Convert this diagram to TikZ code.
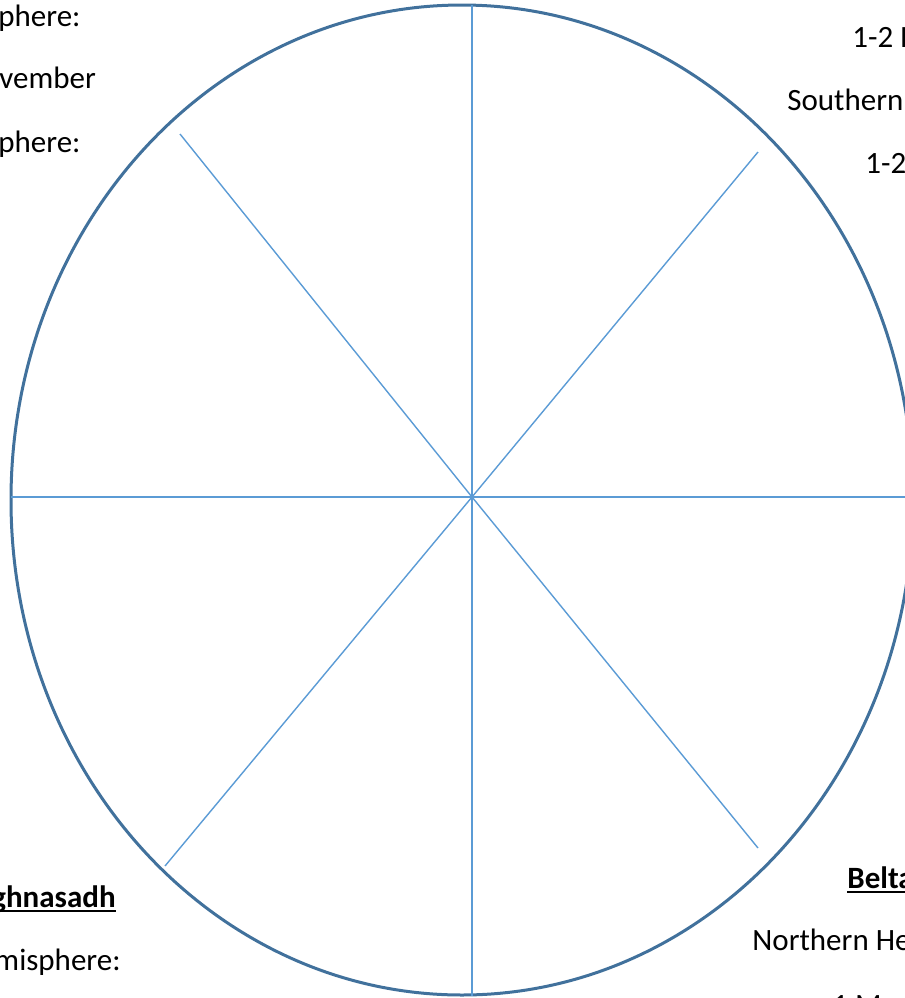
\documentclass[tikz,border=0pt]{standalone}
\usepackage{fontspec}
\setmainfont{Carlito}
\usetikzlibrary{positioning,calc}
\definecolor{rimcol}{RGB}{65,113,156}
\definecolor{spokecol}{RGB}{91,155,213}
% underlined festival name
\newcommand{\ulword}[1]{\setbox0\hbox{#1}\rlap{\rule[-2.5pt]{\wd0}{1pt}}\box0}
\tikzset{
  rim/.style     ={draw=rimcol, line width=1.5pt},
  spoke/.style   ={draw=spokecol, line width=0.7pt},
  txt/.style     ={inner sep=0pt, font=\fontsize{15.5}{18}\selectfont},
  fest/.style    ={txt, font=\fontsize{15.5}{18}\selectfont\bfseries},
}
\begin{document}
\begin{tikzpicture}[x=0.5pt, y=-0.5pt]
    \useasboundingbox (0,0) rectangle (905,998);
    \clip (0,0) rectangle (905,998);

    % wheel: rim and hub
    \draw[rim] (462,500) ellipse [x radius=451, y radius=495];
    \coordinate (hub) at (472,497);
    \coordinate (r_n)  at (472,5);
    \coordinate (r_ne) at (758,152);
    \coordinate (r_e)  at (913,497);
    \coordinate (r_se) at (758,848);
    \coordinate (r_s)  at (472,996);
    \coordinate (r_sw) at (165,866);
    \coordinate (r_w)  at (11,497);
    \coordinate (r_nw) at (180,134);

    % eight spokes
    \foreach \r in {r_n,r_ne,r_e,r_se,r_s,r_sw,r_w,r_nw}
        \draw[spoke] (hub) -- (\r);

    % labels (top left)
    \node[txt, anchor=base west] (tl1) at (-2,26)  {phere:};
    \node[txt, anchor=base west] (tl2) at (-1,88)  {vember};
    \node[txt, anchor=base west] (tl3) at (-2,152) {phere:};

    % labels (top right)
    \node[txt, anchor=base west] (tr1) at (852,47)  {1-2 F};
    \node[txt, anchor=base west] (tr2) at (787,110) {Southern};
    \node[txt, anchor=base west] (tr3) at (865,173) {1-2};

    % labels (bottom left)
    \node[fest, anchor=base east] (bl1) at (116,907) {\ulword{ghnasadh}};
    \node[txt, anchor=base east]  (bl2) at (121,970) {misphere:};

    % labels (bottom right)
    \node[fest, anchor=base west] (br1) at (847,888)  {\ulword{Belta}};
    \node[txt, anchor=base west]  (br2) at (752,950)  {Northern He};
    \node[txt, anchor=base west]  (br3) at (832,1015) {1 M};
\end{tikzpicture}
\end{document}
